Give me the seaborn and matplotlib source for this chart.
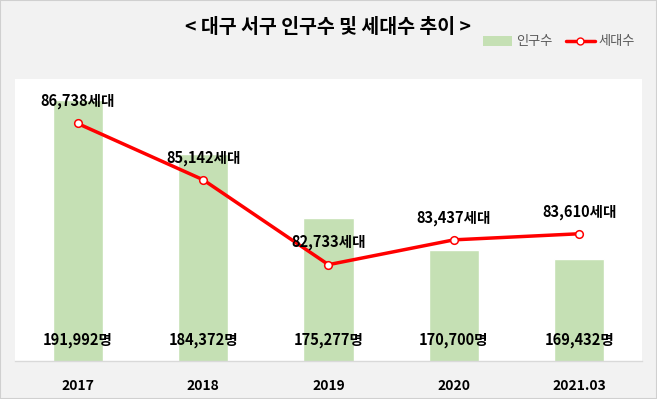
import numpy as np
import pandas as pd
import matplotlib.pyplot as plt
import seaborn as sns
from matplotlib.lines import Line2D
from matplotlib.patches import Patch, Rectangle

# Data
years = ['2017', '2018', '2019', '2020', '2021.03']
population = [191992, 184372, 175277, 170700, 169432]
households = [86738, 85142, 82733, 83437, 83610]

sns.set_theme(style='white')
plt.rcParams['font.family'] = ['Noto Sans CJK KR', 'DejaVu Sans']
plt.rcParams['text.color'] = 'black'

df = pd.DataFrame({'year': years, 'pop': population, 'hh': households})

fig = plt.figure(figsize=(6.57, 3.99), dpi=100)
fig.patch.set_facecolor('#f2f2f2')
fig.add_artist(Rectangle((0, 0), 1, 1, transform=fig.transFigure, fill=False,
                         edgecolor='#d0d0d0', linewidth=1.5))

ax = fig.add_axes([0.0228, 0.0952, 0.9543, 0.7068])
ax.set_facecolor('white')

# population bars
sns.barplot(data=df, x='year', y='pop', color='#c5e0b4', saturation=1,
            width=0.4, ax=ax)
ax.set_ylim(155000, 195000)
ax.set_xlim(-0.5, len(years) - 0.5)
ax.set_yticks([])
ax.set_xlabel('')
ax.set_ylabel('')
for s in ['top', 'left', 'right']:
    ax.spines[s].set_visible(False)
ax.spines['bottom'].set_color('#d9d9d9')
ax.spines['bottom'].set_linewidth(1)
ax.tick_params(axis='x', length=0, pad=13)
for lbl in ax.get_xticklabels():
    lbl.set_fontweight('bold')
    lbl.set_fontsize(10)
    lbl.set_color('black')

for i, v in enumerate(population):
    ax.annotate(f'{v:,}명', (i, 155000), xytext=(0, 15), textcoords='offset points',
                ha='center', va='center', fontsize=10.5, fontweight='bold',
                color='black')

# households line
ax2 = ax.twinx()
sns.lineplot(x=np.arange(len(years)), y=households, ax=ax2, color='#ff0000',
             linewidth=2.5, marker='o', markersize=5.5, markerfacecolor='white',
             markeredgecolor='#ff0000', markeredgewidth=1.1)
ax2.set_ylim(80000, 88000)
ax2.set_yticks([])
for s in ax2.spines.values():
    s.set_visible(False)

for i, v in enumerate(households):
    ax2.annotate(f'{v:,}세대', (i, v), xytext=(0, 16), textcoords='offset points',
                 ha='center', va='center', fontsize=10.5, fontweight='bold',
                 color='black')

fig.text(0.499, 0.93, '< 대구 서구 인구수 및 세대수 추이 >', ha='center', va='center',
         fontsize=14, fontweight='bold', color='black')

handles = [Patch(facecolor='#c5e0b4', edgecolor='none', label='인구수'),
           Line2D([], [], color='#ff0000', linewidth=2.5, marker='o', markersize=5,
                  markerfacecolor='white', markeredgecolor='#ff0000', label='세대수')]
leg = fig.legend(handles=handles, loc='center right', bbox_to_anchor=(0.985, 0.895),
                 ncol=2, frameon=False, fontsize=9.5, handlelength=2.2,
                 handleheight=0.8, columnspacing=1.0, handletextpad=0.3)
for t in leg.get_texts():
    t.set_color('#595959')

fig.savefig('out.png', dpi=100, facecolor=fig.get_facecolor())
